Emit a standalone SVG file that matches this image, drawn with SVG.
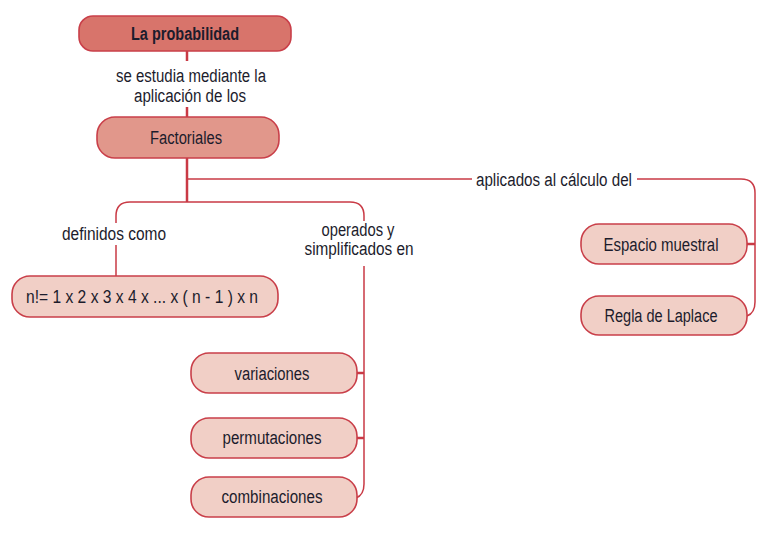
<svg xmlns="http://www.w3.org/2000/svg" width="775" height="534" viewBox="0 0 775 534">
<style>
text{font-family:"Liberation Sans",Arial,sans-serif;font-size:18px;fill:#1c1c2c;text-anchor:middle}
.b{font-weight:bold}
.n{stroke:#c93f49;stroke-width:1.6}
.lt{fill:#f1cfc6}
.c{fill:none;stroke:#c93a45;stroke-width:1.5}
.t{stroke-width:2.5}
</style>
<rect width="775" height="534" fill="#ffffff"/>
<g id="connectors">
<path class="c t" d="M187,51 V61 M187,107 V118 M187,158 V202"/>
<path class="c" stroke-width="1.3" d="M187,179 H472"/>
<path class="c" d="M637,179 H741 Q755,179 755,193 V302 Q755,313 747,316"/>
<path class="c t" d="M747,244 H755"/>
<path class="c" d="M116,223 V216 Q116,202 130,202 H350 Q364,202 364,216 V221"/>
<path class="c" d="M116,245 V276"/>
<path class="c" d="M364,266 V484 Q364,495 356,498"/>
<path class="c t" d="M357,373 H364 M357,438 H364"/>
</g>
<g id="label-estudia">
<text x="191" y="82" textLength="150" lengthAdjust="spacingAndGlyphs">se estudia mediante la</text>
<text x="190" y="102" textLength="112" lengthAdjust="spacingAndGlyphs">aplicación de los</text>
</g>
<g id="label-definidos"><text x="114" y="240" textLength="104" lengthAdjust="spacingAndGlyphs">definidos como</text></g>
<g id="label-operados">
<text x="358" y="236" textLength="73" lengthAdjust="spacingAndGlyphs">operados y</text>
<text x="359" y="255" textLength="109" lengthAdjust="spacingAndGlyphs">simplificados en</text>
</g>
<g id="label-aplicados"><text x="554" y="186" textLength="156" lengthAdjust="spacingAndGlyphs">aplicados al cálculo del</text></g>
<g id="node-probabilidad">
<rect class="n" x="79" y="16" width="212" height="35" rx="14" fill="#d8746b"/>
<text class="b" x="185" y="40" textLength="108" lengthAdjust="spacingAndGlyphs">La probabilidad</text>
</g>
<g id="node-factoriales">
<rect class="n" x="97" y="117" width="182" height="41" rx="18" fill="#e1978b"/>
<text x="186" y="144" textLength="72" lengthAdjust="spacingAndGlyphs">Factoriales</text>
</g>
<g id="node-formula">
<rect class="n lt" x="12" y="276" width="266" height="41" rx="18"/>
<text x="142" y="303" textLength="232" lengthAdjust="spacingAndGlyphs">n!= 1 x 2 x 3 x 4 x ... x ( n - 1 ) x n</text>
</g>
<g id="node-espacio">
<rect class="n lt" x="581" y="224" width="166" height="40" rx="18"/>
<text x="661" y="251" textLength="115" lengthAdjust="spacingAndGlyphs">Espacio muestral</text>
</g>
<g id="node-laplace">
<rect class="n lt" x="581" y="296" width="166" height="39" rx="18"/>
<text x="661" y="322" textLength="113" lengthAdjust="spacingAndGlyphs">Regla de Laplace</text>
</g>
<g id="node-variaciones">
<rect class="n lt" x="191" y="353" width="166" height="40" rx="18"/>
<text x="272" y="380" textLength="75" lengthAdjust="spacingAndGlyphs">variaciones</text>
</g>
<g id="node-permutaciones">
<rect class="n lt" x="191" y="418" width="166" height="40" rx="18"/>
<text x="272" y="444" textLength="99" lengthAdjust="spacingAndGlyphs">permutaciones</text>
</g>
<g id="node-combinaciones">
<rect class="n lt" x="191" y="477" width="166" height="40" rx="18"/>
<text x="272" y="503" textLength="101" lengthAdjust="spacingAndGlyphs">combinaciones</text>
</g>
</svg>
